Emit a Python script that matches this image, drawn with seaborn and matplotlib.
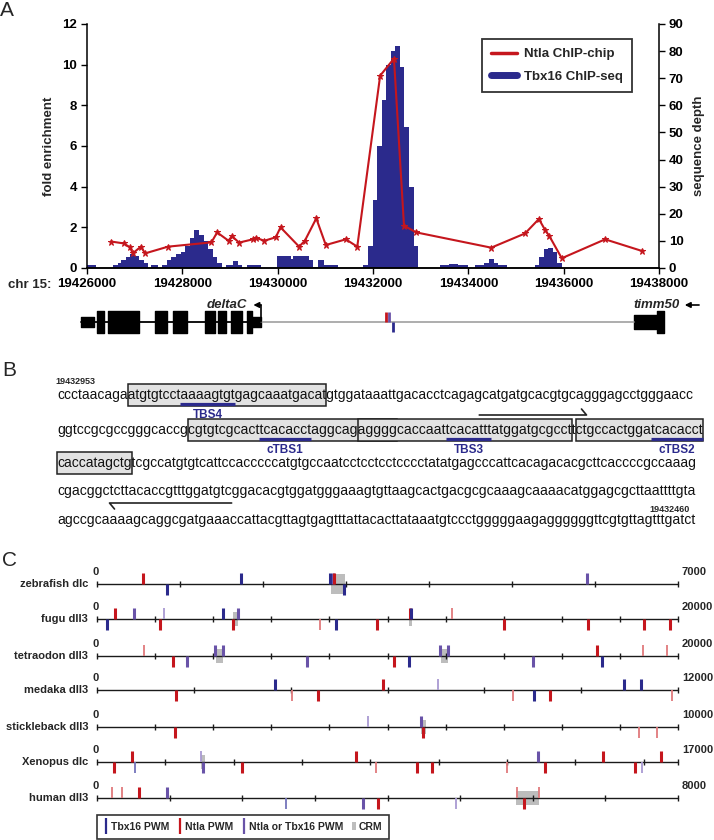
import numpy as np
import pandas as pd
import matplotlib
matplotlib.use("Agg")
import matplotlib.pyplot as plt
from matplotlib.patches import Rectangle, Patch
from matplotlib.lines import Line2D
import seaborn as sns

W, H = 714, 840

# ---------------- panel A: ChIP data ----------------
ntla_pos = [19426510, 19426770, 19426900, 19426960, 19427130, 19427220, 19427700,
            19428610, 19428730, 19428970, 19429040, 19429190, 19429480, 19429540,
            19429720, 19429960, 19430060, 19430450, 19430570, 19430810, 19431010,
            19431430, 19431670, 19432150, 19432440, 19432650, 19432910, 19434480,
            19435190, 19435480, 19435610, 19435700, 19435960, 19436870, 19437640]
ntla_fold = [1.30, 1.21, 1.02, 0.72, 1.05, 0.72, 1.05, 1.26, 1.75, 1.34, 1.57, 1.25,
             1.41, 1.49, 1.34, 1.51, 2.00, 1.05, 1.34, 2.44, 1.13, 1.41, 1.05, 9.46,
             10.30, 2.08, 1.75, 1.00, 1.70, 2.41, 1.87, 1.57, 0.48, 1.41, 0.84]

tbx16_start = 19426000
tbx16_offset = [0, 190, 555, 650, 720, 815, 910, 1010, 1100, 1200, 1280, 1340, 1480, 1580,
                1680, 1770, 1870, 1970, 2060, 2160, 2250, 2350, 2450, 2540, 2640, 2730,
                2830, 2920, 3060, 3160, 3260, 3350, 3640, 3990, 4270, 4330, 4650, 4750,
                4850, 4980, 5260, 5800, 5900, 5990, 6080, 6180, 6280, 6370, 6470, 6560,
                6660, 6750, 6850, 6950, 7410, 7600, 7790, 7990, 8140, 8330, 8430, 8530,
                8620, 8820, 9400, 9490, 9580, 9680, 9770, 9870, 9960, 12000]
tbx16_depth = [1, 0, 1, 2, 3, 4, 5, 4.5, 3, 2, 0, 1, 0, 1, 3, 4, 5, 6, 8, 11, 14, 12, 10,
               7, 4, 2, 0, 1, 2.5, 1, 0, 1, 0, 4.5, 3.5, 4.5, 3, 0.5, 3, 1, 0, 1, 8, 25,
               45, 62, 75, 80, 82, 74, 52, 30, 8, 0, 1, 1.5, 1, 0, 1, 2, 3.5, 2, 1, 0, 1,
               4, 7, 7.5, 6, 2, 0, 0]

x_ticks = [19426000, 19428000, 19430000, 19432000, 19434000, 19436000, 19438000]

# gene models
deltac_exon_start = [19425874, 19426210, 19426441, 19427427, 19427804, 19428476,
                     19428748, 19429021, 19429357, 19429460]
deltac_exon_end = [19426147, 19426357, 19427091, 19427678, 19428098, 19428685,
                   19428916, 19429252, 19429460, 19429650]
deltac_exon_kind = ['utr', 'cds', 'cds', 'cds', 'cds', 'cds', 'cds', 'cds', 'cds', 'utr']
deltac_tss = 19429650
timm50_exon_start = [19437476, 19437960]
timm50_exon_end = [19437960, 19438105]
timm50_exon_kind = ['mid', 'cds']
peak_site_pos = [19432270, 19432330, 19432420]
peak_site_strand = [1, 1, -1]
peak_site_kind = ['N', 'E', 'T']

# ---------------- panel B: sequence ----------------
seq_lines = [
    "ccctaacagaatgtgtcctaaaagtgtgagcaaatgacatgtggataaattgacacctcagagcatgatgcacgtgcagggagcctgggaacc",
    "ggtccgcgccgggcaccgcgtgtcgcacttcacacctaggcagaggggcaccaattcacatttatggatgcgccttctgccactggatcacacct",
    "caccatagctgtcgccatgtgtcattccacccccatgtgccaatcctcctcctcccctatatgagcccattcacagacacgcttcaccccgccaaag",
    "cgacggctcttacaccgtttggatgtcggacacgtggatgggaaagtgttaagcactgacgcgcaaagcaaaacatggagcgcttaattttgta",
    "agccgcaaaagcaggcgatgaaaccattacgttagtgagtttattacacttataaatgtccctgggggaagaggggggttcgtgttagtttgatct",
]
seq_start_label = "19432953"
seq_end_label = "19432460"
# (line, first char, last char) of shaded conserved blocks
seq_boxes = [(0, 10, 40), (1, 18, 48), (1, 43, 75), (1, 76, 95), (2, 0, 11)]
# (line, first char, last char, name) of T-box sites
tbs_sites = [(0, 19, 27, "TBS4"), (1, 29, 37, "cTBS1"), (1, 55, 63, "TBS3"), (1, 87, 95, "cTBS2")]
# (line, first char, last char, direction) of primers
primers = [(1, 60, 78, 1), (3, 7, 27, -1)]

# ---------------- panel C: PWM sites ----------------
zebrafish_len = 7000
zebrafish_pos = [554, 843, 1735, 2807, 2843, 2855, 2976, 5904]
zebrafish_strand = [1, -1, 1, 1, 1, 1, -1, 1]
zebrafish_kind = ['N', 'T', 'T', 'T', 'E', 'N', 'T', 'E']
zebrafish_crm = [(2819, 2988)]

fugu_len = 20000
fugu_pos = [346, 628, 1257, 2184, 2294, 4336, 4666, 4839, 7667, 8216, 9646, 10762, 10809,
            12223, 14014, 16889, 18822, 19733]
fugu_strand = [-1, 1, 1, -1, 1, 1, -1, 1, -1, -1, -1, 1, 1, 1, -1, -1, -1, -1]
fugu_kind = ['T', 'N', 'E', 'N', 'e', 'T', 'N', 'E', 'n', 'T', 'N', 'N', 'T', 'n', 'N',
             'N', 'N', 'N']
fugu_crm = [(4680, 4870), (10740, 10860)]

tetraodon_len = 20000
tetraodon_pos = [1618, 2608, 3111, 4054, 4336, 7227, 10228, 10731, 11799, 12097, 15003,
                 17203, 17376, 18790, 19607]
tetraodon_strand = [1, -1, -1, 1, 1, -1, -1, -1, 1, 1, -1, 1, -1, 1, 1]
tetraodon_kind = ['n', 'N', 'E', 'E', 'E', 'E', 'N', 'T', 'E', 'E', 'E', 'N', 'T', 'n', 'n']
tetraodon_crm = [(4085, 4336), (11830, 12097)]

medaka_len = 12000
medaka_pos = [1633, 3683, 4022, 4560, 5910, 7043, 8601, 9026, 9366, 10895, 11235, 11877]
medaka_strand = [-1, 1, -1, -1, 1, 1, -1, -1, -1, 1, 1, -1]
medaka_kind = ['N', 'T', 'n', 'N', 'N', 'e', 'n', 'T', 'N', 'T', 'T', 'n']
medaka_crm = []

stickleback_len = 10000
stickleback_pos = [1345, 4665, 5570, 5610, 9323, 9646]
stickleback_strand = [-1, 1, 1, -1, -1, -1]
stickleback_kind = ['N', 'e', 'E', 'N', 'n', 'n']
stickleback_crm = [(5570, 5660)]

xenopus_len = 17000
xenopus_pos = [495, 1030, 1110, 3050, 3103, 4240, 7570, 8159, 9349, 9804, 11984, 12894,
               13121, 14806, 15729, 15943, 16505]
xenopus_strand = [-1, 1, -1, 1, -1, -1, 1, -1, -1, -1, -1, 1, -1, 1, -1, -1, 1]
xenopus_kind = ['N', 'N', 't', 'e', 'E', 'N', 'N', 'n', 'N', 'N', 'n', 'E', 'N', 'N', 'N',
                'e', 'N']
xenopus_crm = [(3040, 3160)]

human_len = 8000
human_pos = [208, 346, 579, 969, 2600, 3657, 3871, 4947, 5778, 5885, 6080]
human_strand = [1, 1, 1, 1, -1, -1, -1, -1, 1, -1, 1]
human_kind = ['n', 'n', 'N', 'E', 't', 'E', 'N', 'e', 'n', 'N', 'n']
human_crm = [(5765, 6080)]

track_names = ["zebrafish dlc", "fugu dll3", "tetraodon dll3", "medaka dll3",
               "stickleback dll3", "Xenopus dlc", "human dll3"]
track_tick_step = [1000, 2000, 2000, 2000, 1000, 2000, 1000]

BLUE = '#2b2a8c'
RED = '#c5161d'
site_color = {'T': BLUE, 't': '#7474bb', 'N': RED, 'n': '#e07a7c',
              'E': '#6953a8', 'e': '#a99ad2'}

sns.set_style("ticks")
plt.rcParams['font.family'] = ['Liberation Sans', 'DejaVu Sans']
plt.rcParams['axes.edgecolor'] = 'black'
plt.rcParams['xtick.color'] = 'black'
plt.rcParams['ytick.color'] = 'black'

fig = plt.figure(figsize=(W / 100, H / 100), dpi=100)


def px_axes(x0, y0, x1, y1):
    return fig.add_axes([x0 / W, 1 - y1 / H, (x1 - x0) / W, (y1 - y0) / H])


ov = px_axes(0, 0, W, H)
ov.set_xlim(0, W)
ov.set_ylim(H, 0)
ov.axis('off')

# ---------------- panel A ----------------
ax = px_axes(87, 24, 659, 268)
ax2 = ax.twinx()
ax.set_zorder(ax2.get_zorder() + 1)
ax.patch.set_visible(False)

depth_df = pd.DataFrame({'pos': np.array(tbx16_offset) + tbx16_start, 'depth': tbx16_depth})
ax2.fill_between(depth_df['pos'], depth_df['depth'], step='post', color=BLUE, lw=0)
ax2.set_ylim(0, 90)
ax2.set_yticks(range(0, 91, 10))

ntla_df = pd.DataFrame({'pos': ntla_pos, 'fold': ntla_fold})
sns.lineplot(data=ntla_df, x='pos', y='fold', ax=ax, color=RED, lw=1.5, marker='*',
             markersize=5, markeredgecolor=RED, sort=False)
ax.set_xlim(x_ticks[0], x_ticks[-1])
ax.set_ylim(0, 12)
ax.set_yticks(range(0, 13, 2))
ax.set_xticks(x_ticks)
ax.set_xticklabels([str(t) for t in x_ticks])
for a in (ax, ax2):
    a.spines['top'].set_visible(False)
    for s in a.spines.values():
        s.set_linewidth(1.1)
    a.tick_params(direction='out', length=4, width=1, labelsize=9.5, pad=3)
    for lbl in a.get_xticklabels() + a.get_yticklabels():
        lbl.set_fontweight('bold')
ax2.spines['left'].set_visible(False)
ax.spines['right'].set_visible(False)
ax.set_xlabel('')
ax.set_ylabel('fold enrichment', fontsize=9.5, fontweight='bold')
ax.yaxis.set_label_coords(-0.056, 0.5)
ax2.set_ylabel('sequence depth', fontsize=9.5, fontweight='bold')
ax2.yaxis.set_label_coords(1.059, 0.5)
ov.text(8, 285, 'chr 15:', ha='left', va='center', fontsize=9.5, fontweight='bold')

leg_handles = [Line2D([], [], color=RED, lw=2.5), Line2D([], [], color=BLUE, lw=5)]
leg = ax.legend(leg_handles, ['Ntla ChIP-chip', 'Tbx16 ChIP-seq'], loc='upper right',
                bbox_to_anchor=(0.953, 0.9385), borderaxespad=0, frameon=True,
                fancybox=False, edgecolor='black', prop=dict(weight='bold', size=9.5),
                handlelength=2.0, handletextpad=0.5, labelspacing=0.75, borderpad=0.7)
leg.get_frame().set_linewidth(1.3)

# gene track
axg = px_axes(87, 302, 659, 342)
axg.set_xlim(x_ticks[0], x_ticks[-1])
axg.set_ylim(-20, 20)
axg.axis('off')
half = {'cds': 11, 'utr': 5, 'mid': 7}
axg.plot([deltac_exon_start[0], deltac_tss], [0, 0], color='black', lw=1.3, clip_on=False)
axg.plot([deltac_tss, timm50_exon_start[0]], [0, 0], color='#a0a0a0', lw=1.2, clip_on=False)
for s, e, k in list(zip(deltac_exon_start, deltac_exon_end, deltac_exon_kind)) + \
        list(zip(timm50_exon_start, timm50_exon_end, timm50_exon_kind)):
    axg.broken_barh([(s, e - s)], (-half[k], 2 * half[k]), color='black', clip_on=False)
axg.plot([deltac_tss, deltac_tss], [0, 17], color='black', lw=1.2, clip_on=False)
axg.annotate('', xy=(deltac_tss - 160, 17), xytext=(deltac_tss, 17), annotation_clip=False,
             arrowprops=dict(arrowstyle='-|>', color='black', lw=1.2, mutation_scale=8,
                             shrinkA=0, shrinkB=0))
axg.text(deltac_tss - 300, 17, 'deltaC', ha='right', va='center', fontsize=9.5,
         fontweight='bold', style='italic')
axg.text(19438440, 17, 'timm50', ha='right', va='center', fontsize=9.5,
         fontweight='bold', style='italic', clip_on=False)
axg.annotate('', xy=(19438540, 17), xytext=(19438840, 17), annotation_clip=False,
             arrowprops=dict(arrowstyle='-|>', color='black', lw=1.2, mutation_scale=8,
                             shrinkA=0, shrinkB=0))
for p, st, k in zip(peak_site_pos, peak_site_strand, peak_site_kind):
    axg.vlines(p, 0, 10 * st, color=site_color[k], lw=2)

# ---------------- panel B ----------------
renderer = fig.canvas.get_renderer()
SEQ_X0 = 57
seq_x1 = [694, 698, 698, 693, 689]
seq_base = [399, 434, 467, 495, 524]


def width_px(s, size, **kw):
    if not s:
        return 0.0
    t = ov.text(0, 0, s, fontsize=size, **kw)
    w = t.get_window_extent(renderer).width
    t.remove()
    return w


line_size = []
for i, line in enumerate(seq_lines):
    size = 10 * (seq_x1[i] - SEQ_X0) / width_px(line, 10)
    line_size.append(size)
    ov.text(SEQ_X0, seq_base[i], line, fontsize=size, ha='left', va='baseline',
            color='#111111', zorder=3)


def char_x(i, k):
    return SEQ_X0 + width_px(seq_lines[i][:k], line_size[i])


for li, a, b in seq_boxes:
    x0, x1 = char_x(li, a), char_x(li, b)
    ov.add_patch(Rectangle((x0, seq_base[li] - 15), x1 - x0, 22, facecolor='#e2e2e2',
                           edgecolor='#222222', lw=1.1, zorder=2))
for li, a, b, name in tbs_sites:
    x0, x1 = char_x(li, a), char_x(li, b)
    ov.plot([x0, x1], [seq_base[li] + 5, seq_base[li] + 5], color=BLUE, lw=2.3, zorder=4,
            solid_capstyle='butt')
    ov.text((x0 + x1) / 2, seq_base[li] + 16, name, ha='center', va='center', fontsize=8.5,
            fontweight='bold', color=BLUE)
for li, a, b, d in primers:
    x0, x1 = char_x(li, a), char_x(li, b)
    if d > 0:
        y = seq_base[li] - 19
        ov.plot([x0, x1, x1 - 5, ], [y, y, y - 6], color='#222222', lw=1.2)
    else:
        y = seq_base[li] + 8
        ov.plot([x1, x0, x0 + 5], [y, y, y + 6], color='#222222', lw=1.2)
ov.text(55, 382, seq_start_label, ha='left', va='center', fontsize=6.5, fontweight='bold')
ov.text(690, 509, seq_end_label, ha='right', va='center', fontsize=6.5, fontweight='bold')

# ---------------- panel C ----------------
track_len = [zebrafish_len, fugu_len, tetraodon_len, medaka_len, stickleback_len,
             xenopus_len, human_len]
track_pos = [zebrafish_pos, fugu_pos, tetraodon_pos, medaka_pos, stickleback_pos,
             xenopus_pos, human_pos]
track_strand = [zebrafish_strand, fugu_strand, tetraodon_strand, medaka_strand,
                stickleback_strand, xenopus_strand, human_strand]
track_kind = [zebrafish_kind, fugu_kind, tetraodon_kind, medaka_kind, stickleback_kind,
              xenopus_kind, human_kind]
track_crm = [zebrafish_crm, fugu_crm, tetraodon_crm, medaka_crm, stickleback_crm,
             xenopus_crm, human_crm]
track_y = [584, 619, 656, 690, 727, 762, 798]

for ti, name in enumerate(track_names):
    y = track_y[ti]
    L = track_len[ti]
    axt = px_axes(97, y - 16, 678, y + 16)
    axt.set_xlim(0, L)
    axt.set_ylim(-16, 16)
    axt.axis('off')
    for s, e in track_crm[ti]:
        crm_h = 10 if ti == 0 else 7
        axt.add_patch(Rectangle((s, -crm_h), e - s, 2 * crm_h, facecolor='#bdbdbd',
                                edgecolor='none', zorder=1))
    axt.plot([0, L], [0, 0], color='#1a1a1a', lw=1.0, zorder=2, clip_on=False)
    ticks = list(range(0, L + 1, track_tick_step[ti]))
    if ticks[-1] != L:
        ticks.append(L)
    axt.vlines(ticks, -3, 3, color='#1a1a1a', lw=1.0, zorder=2, clip_on=False)
    for p, st, k in zip(track_pos[ti], track_strand[ti], track_kind[ti]):
        axt.vlines(p, 0, 11 * st, color=site_color[k], lw=2.2 if k.isupper() else 1.3,
                   zorder=3)
    ov.text(88, y, name, ha='right', va='center', fontsize=8, fontweight='bold')
    ov.text(96, y - 12, '0', ha='center', va='center', fontsize=8, fontweight='bold')
    ov.text(682, y - 12, str(L), ha='left', va='center', fontsize=8, fontweight='bold')

c_handles = [Line2D([], [], color=BLUE, marker='|', ls='None', markersize=11, mew=1.6),
             Line2D([], [], color=RED, marker='|', ls='None', markersize=11, mew=1.6),
             Line2D([], [], color=site_color['E'], marker='|', ls='None', markersize=11, mew=1.6),
             Patch(facecolor='#bdbdbd', edgecolor='none')]
c_leg = fig.legend(c_handles, ['Tbx16 PWM', 'Ntla PWM', 'Ntla or Tbx16 PWM', 'CRM'],
                   ncol=4, loc='upper left', bbox_to_anchor=(97 / W, 1 - 815 / H),
                   frameon=True, fancybox=False, edgecolor='black',
                   prop=dict(weight='bold', size=7.5), handlelength=0.4,
                   handletextpad=0.3, columnspacing=0.8, borderpad=0.65, borderaxespad=0)
c_leg.get_frame().set_linewidth(1.2)

# panel letters
ov.text(0, 10, 'A', ha='left', va='center', fontsize=15)
ov.text(2, 370, 'B', ha='left', va='center', fontsize=15)
ov.text(2, 560, 'C', ha='left', va='center', fontsize=15)

fig.savefig('out.png', dpi=100)
